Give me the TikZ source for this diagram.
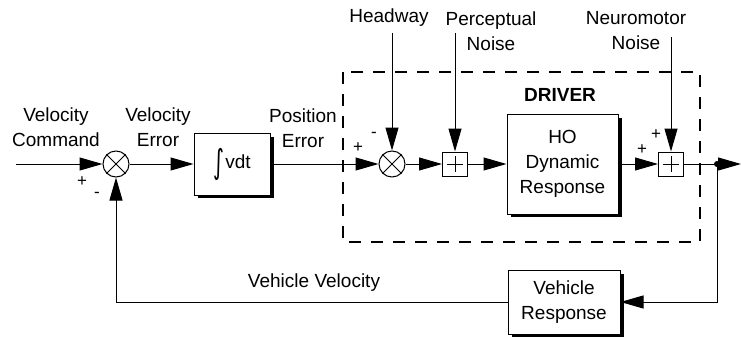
\documentclass[tikz,border=0pt]{standalone}
\usepackage{fontspec}
\setmainfont{Liberation Sans}
\newfontfamily\symfont{DejaVu Sans}
\usetikzlibrary{arrows.meta,calc}
\begin{document}
\begin{tikzpicture}[x=1pt,y=-1pt,
  font=\fontsize{19}{25}\selectfont,
  line width=1pt,
  arr/.style={-{Triangle[length=23pt,width=13pt]}},
  blk/.style={draw, fill=white, line width=1pt, align=center, inner sep=0pt},
  shd/.style={draw=black, line width=3.5pt, line cap=butt, line join=miter},
  sumc/.style={draw, circle, minimum size=26pt, inner sep=0pt, fill=white},
  plusb/.style={draw, minimum width=25pt, minimum height=24pt, inner sep=0pt, fill=white},
  lbl/.style={align=center, inner sep=0pt},
  sgn/.style={inner sep=0pt, font=\fontsize{17}{17}\selectfont},
  drvbox/.style={line width=2.5pt, dash pattern=on 12pt off 10pt}]
\useasboundingbox (0,0) rectangle (741,337);

% driver dashed box
\draw[drvbox] (343,72) rectangle (700,242);

% blocks
\node[sumc] (s1) at (116,164) {};
\node[blk, minimum width=76pt, minimum height=62pt] (int) at (232,164) {\raisebox{-5pt}{\symfont\scalebox{1.1}[1.75]{∫}}\kern1pt vdt};
\node[sumc] (s2) at (392,164) {};
\node[plusb] (p1) at (455,164) {};
\node[blk, minimum width=111pt, minimum height=100pt] (ho) at (562.5,164) {HO\\Dynamic\\Response};
\node[plusb] (p2) at (671,164) {};
\node[circle, fill, inner sep=0pt, minimum size=6pt] (dot) at (717,164) {};
\node[blk, minimum width=112pt, minimum height=64pt] (vr) at (564,302) {Vehicle\\Response};

% shadows (drawn over, outside the boxes)
\draw[shd] (272,137) -- (272,196.5) -- (198,196.5);
\draw[shd] (620,118) -- (620,215.5) -- (511,215.5);
\draw[shd] (622,274) -- (622,335.5) -- (512,335.5);

% crosses and plus signs
\draw (s1.north west) -- (s1.south east) (s1.north east) -- (s1.south west);
\draw (s2.north west) -- (s2.south east) (s2.north east) -- (s2.south west);
\draw ([xshift=-8pt]p1.center) -- ([xshift=8pt]p1.center) ([yshift=-8pt]p1.center) -- ([yshift=8pt]p1.center);
\draw ([xshift=-8pt]p2.center) -- ([xshift=8pt]p2.center) ([yshift=-8pt]p2.center) -- ([yshift=8pt]p2.center);

% free ends
\coordinate (in) at (16,164);
\coordinate (out) at (741,164);
\coordinate (hw) at (392,33);
\coordinate (pn) at (455,33);
\coordinate (nn) at (671,37);

% connectors
\draw[arr] (in) -- (s1);
\draw[arr] (s1) -- (int);
\draw[arr] (int.east) -- (s2);
\draw[arr] (s2) -- (p1);
\draw[arr] (p1) -- (ho);
\draw[arr] (ho) -- (p2);
\draw (p2) -- (dot);
\draw[arr] (dot) -- (out);
\draw[arr] (dot.center) |- (vr.east);
\draw[arr] (vr.west) -| (s1.south);
\draw[arr] (hw) -- (s2);
\draw[arr] (pn) -- (p1);
\draw[arr] (nn) -- (p2);

% labels
\node[lbl] (vc) at (56,127) {Velocity\\Command};
\node[lbl] (ve) at (158,127) {Velocity\\Error};
\node[lbl] (pe) at (303,128) {Position\\Error};
\node[lbl] (hwl) at (389,18) {Headway};
\node[lbl] (pnl) at (491,31) {Perceptual\\Noise};
\node[lbl] (nnl) at (636,31) {Neuromotor\\Noise};
\node[lbl, font=\fontsize{19}{25}\selectfont\bfseries] (drv) at (560,95) {DRIVER};
\node[lbl] (vv) at (314,283) {Vehicle Velocity};

% signs
\node[sgn] (sg1) at (82,182) {+};
\node[sgn] (sg2) at (97,195) {-};
\node[sgn] (sg3) at (358,148) {+};
\node[sgn] (sg4) at (374,135) {-};
\node[sgn] (sg5) at (642,150) {+};
\node[sgn] (sg6) at (656,135) {+};
\end{tikzpicture}
\end{document}
